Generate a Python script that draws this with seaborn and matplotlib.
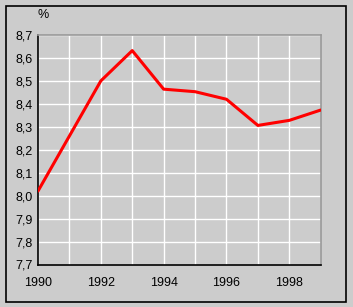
import matplotlib
matplotlib.use("Agg")
import matplotlib.pyplot as plt
from matplotlib.patches import Rectangle
import seaborn as sns
import pandas as pd

years = [1990, 1991, 1992, 1993, 1994, 1995, 1996, 1997, 1998, 1999]
values = [8.02, 8.26, 8.50, 8.632, 8.464, 8.453, 8.42, 8.306, 8.328, 8.373]
xtick_years = [1990, 1992, 1994, 1996, 1998]
yticks = [7.7, 7.8, 7.9, 8.0, 8.1, 8.2, 8.3, 8.4, 8.5, 8.6, 8.7]

sns.set_style("white")
plt.rcParams['font.family'] = ['Liberation Sans', 'DejaVu Sans']
plt.rcParams['text.color'] = 'black'
plt.rcParams['xtick.color'] = 'black'
plt.rcParams['ytick.color'] = 'black'

W, H = 353, 307
fig = plt.figure(figsize=(W / 100, H / 100), dpi=100)
fig.patch.set_facecolor('#CCCCCC')
fig.patches.append(Rectangle((5.5 / W, 5.5 / H), 340.5 / W, 296 / H, transform=fig.transFigure,
                             fill=False, edgecolor='black', linewidth=1.2))

ax = fig.add_axes([38 / W, (H - 264.5) / H, 282.7 / W, 229.5 / H])
ax.set_facecolor('#CCCCCC')

df = pd.DataFrame({'year': years, 'value': values})
sns.lineplot(data=df, x='year', y='value', ax=ax, color='#FF0000', linewidth=2.2, zorder=3)

ax.set_xlim(1990, 1999)
ax.set_ylim(7.7, 8.7)
ax.set_xticks(years)
ax.set_xticklabels([str(y) if y in xtick_years else '' for y in years])
ax.set_yticks(yticks)
ax.set_yticklabels([f"{v:.1f}".replace('.', ',') for v in yticks])
ax.grid(True, color='white', linewidth=1.0, zorder=1)
ax.set_axisbelow(True)
ax.set_xlabel('')
ax.set_ylabel('')
ax.tick_params(axis='x', direction='out', length=3, width=1, color='black', labelcolor='black', labelsize=9, pad=6)
ax.tick_params(axis='y', length=0, labelcolor='black', labelsize=9, pad=4)
for s in ['left', 'bottom']:
    ax.spines[s].set_color('black')
    ax.spines[s].set_linewidth(1.2)
for s in ['top', 'right']:
    ax.spines[s].set_color('#999999')
    ax.spines[s].set_linewidth(1.2)

fig.text(38 / W, (H - 15) / H, '%', fontsize=9, ha='left', va='center', color='black')

fig.savefig('out.png', dpi=100, facecolor=fig.get_facecolor())
